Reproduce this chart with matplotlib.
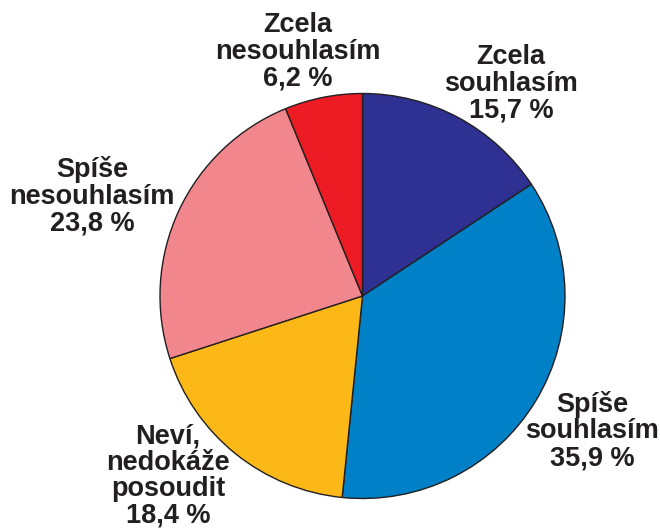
import matplotlib
matplotlib.use("Agg")
import matplotlib.pyplot as plt

labels = ["Zcela\nsouhlasím", "Spíše\nsouhlasím", "Neví,\nnedokáže\nposoudit",
          "Spíše\nnesouhlasím", "Zcela\nnesouhlasím"]
values = [15.7, 35.9, 18.4, 23.8, 6.2]
value_texts = ["15,7 %", "35,9 %", "18,4 %", "23,8 %", "6,2 %"]
colors = ["#2E3192", "#0080C6", "#FBB817", "#F1878D", "#ED1C24"]

W, H = 660, 531
fig = plt.figure(figsize=(W / 100, H / 100), dpi=100)
ax = fig.add_axes([0, 0, 1, 1])

cx, cy, r = 362.5, 296, 202.5
# pie is drawn in an inverted y axis: counterclock=True appears clockwise
ax.pie(values, colors=colors, startangle=-90, counterclock=True,
       center=(cx, cy), radius=r, frame=True,
       wedgeprops=dict(edgecolor="#231F20", linewidth=1.0))
ax.set_xlim(0, W)
ax.set_ylim(H, 0)
ax.axis("off")

label_pos = [(511, 84), (592, 431), (168, 476), (92, 196), (298, 52)]
for lab, vt, (x, y) in zip(labels, value_texts, label_pos):
    ax.text(x, y, lab + "\n" + vt, ha="center", va="center",
            fontsize=19.5, fontweight="bold", family="Liberation Sans",
            color="#231F20", linespacing=1.03)

fig.savefig("out.png", dpi=100)
